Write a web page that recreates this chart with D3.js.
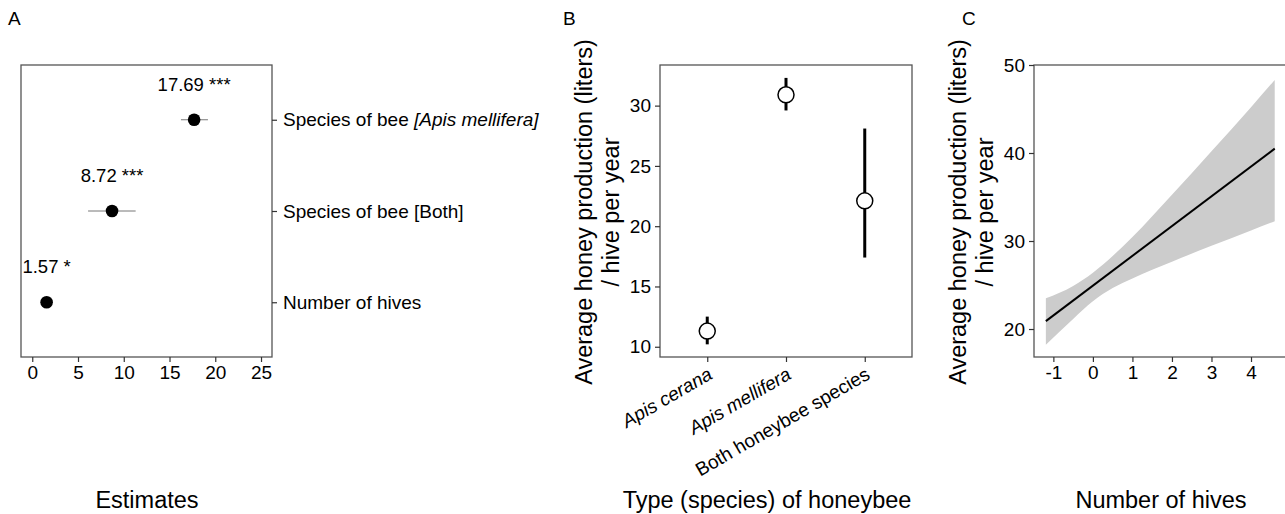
<!DOCTYPE html>
<html>
<head>
<meta charset="utf-8">
<script src="https://cdn.jsdelivr.net/npm/d3@7"></script>
<style>
  body { margin: 0; background: #fff; }
  svg { display: block; font-family: "Liberation Sans", Arial, sans-serif; }
  .tick text { fill: #000; }
</style>
</head>
<body>
<svg id="fig" width="1285" height="514"></svg>
<script>
// ── Panel A: model estimates ─────────────────────────────
const estTerms = ["Number of hives", "Species of bee [Both]", "Species of bee [Apis mellifera]"];
const estValues = [1.57, 8.72, 17.69];
const estLow = [1.1, 6.1, 16.25];
const estHigh = [2.0, 11.3, 19.2];
const estSig = ["*", "***", "***"];
const estTicks = [0, 5, 10, 15, 20, 25];

// ── Panel B: production by species ───────────────────────
const species = ["Apis cerana", "Apis mellifera", "Both honeybee species"];
const speciesMean = [11.3, 30.9, 22.1];
const speciesLow = [10.2, 29.6, 17.4];
const speciesHigh = [12.5, 32.3, 28.1];
const speciesTicks = [10, 15, 20, 25, 30];

// ── Panel C: production vs number of hives ───────────────
const hivesX = [-1.19, -0.5, 0, 0.5, 1, 2, 3, 4, 4.6];
const hivesUpper = [23.5, 24.9, 26.4, 28.3, 30.45, 35.25, 40.2, 45.2, 48.3];
const hivesLower = [18.2, 21.15, 23.15, 24.65, 25.75, 27.65, 29.45, 31.2, 32.25];
const fitX = [-1.19, 4.6];
const fitY = [20.9, 40.5];
const hivesXTicks = [-1, 0, 1, 2, 3, 4];
const hivesYTicks = [20, 30, 40, 50];

const svg = d3.select('#fig');
const TICK_FS = '19px';
const TITLE_FS = '23.5px';
const BORDER = '#555';

function styleAxis(g) {
    g.select('.domain').remove();
    g.selectAll('.tick line').attr('stroke', '#333').attr('stroke-width', 1.2);
    g.selectAll('.tick text').attr('font-size', TICK_FS).attr('font-family', null);
}

function frame(x0, y0, x1, y1) {
    svg.append('rect')
        .attr('x', x0).attr('y', y0)
        .attr('width', x1 - x0).attr('height', y1 - y0)
        .attr('fill', 'none')
        .attr('stroke', BORDER)
        .attr('stroke-width', 1.3);
}

function letter(txt, x, y) {
    svg.append('text').attr('x', x).attr('y', y)
        .attr('font-size', '19px').text(txt);
}

function xTitle(txt, x) {
    svg.append('text').attr('x', x).attr('y', 508)
        .attr('text-anchor', 'middle')
        .attr('font-size', TITLE_FS).text(txt);
}

function yTitle(cx, cy) {
    const t = svg.append('text')
        .attr('transform', `translate(${cx},${cy}) rotate(-90)`)
        .attr('text-anchor', 'middle')
        .attr('font-size', TITLE_FS);
    t.append('tspan').attr('x', 0).attr('y', 0).text('Average honey production (liters)');
    t.append('tspan').attr('x', 0).attr('y', 27).text('/ hive per year');
}

// ── A ────────────────────────────────────────────────────
{
    const left = 21, right = 272, top = 65, bottom = 357;
    const x = d3.scaleLinear().domain([-1.23, 26.2]).range([left, right]);
    const y = d3.scalePoint().domain(estTerms).range([bottom, top]).padding(0.6);

    frame(left, top, right, bottom);
    letter('A', 8, 25);

    const gx = svg.append('g').attr('transform', `translate(0,${bottom})`)
        .call(d3.axisBottom(x).tickValues(estTicks).tickSize(5).tickPadding(4));
    styleAxis(gx);

    const gy = svg.append('g').attr('transform', `translate(${right},0)`)
        .call(d3.axisRight(y).tickSize(5).tickPadding(6));
    styleAxis(gy);
    gy.selectAll('.tick text').each(function(d) {
        const t = d3.select(this);
        const m = d.match(/^(.*?)(\[Apis mellifera\])$/);
        if (m) {
            t.text(null);
            t.append('tspan').text(m[1]);
            t.append('tspan').attr('font-style', 'italic').text(m[2]);
        }
    });

    const rows = estTerms.map((term, i) => ({
        term, v: estValues[i], lo: estLow[i], hi: estHigh[i], sig: estSig[i]
    }));

    svg.append('g').selectAll('line').data(rows).join('line')
        .attr('x1', d => x(d.lo)).attr('x2', d => x(d.hi))
        .attr('y1', d => y(d.term)).attr('y2', d => y(d.term))
        .attr('stroke', '#777').attr('stroke-width', 1);

    svg.append('g').selectAll('circle').data(rows).join('circle')
        .attr('cx', d => x(d.v)).attr('cy', d => y(d.term))
        .attr('r', 6.3).attr('fill', '#000');

    svg.append('g').selectAll('text').data(rows).join('text')
        .attr('x', d => x(d.v)).attr('y', d => y(d.term) - 29)
        .attr('text-anchor', 'middle')
        .attr('font-size', '18.5px')
        .text(d => `${d.v.toFixed(2)} ${d.sig}`);

    xTitle('Estimates', 147);
}

// ── B ────────────────────────────────────────────────────
{
    const left = 660, right = 912, top = 65, bottom = 357;
    const x = d3.scalePoint().domain(species).range([left, right]).padding(0.6);
    const y = d3.scaleLinear().domain([9.15, 33.37]).range([bottom, top]);

    frame(left, top, right, bottom);
    letter('B', 563, 25);

    const gy = svg.append('g').attr('transform', `translate(${left},0)`)
        .call(d3.axisLeft(y).tickValues(speciesTicks).tickSize(5).tickPadding(4));
    styleAxis(gy);

    const gx = svg.append('g').attr('transform', `translate(0,${bottom})`)
        .call(d3.axisBottom(x).tickSize(5).tickPadding(4));
    styleAxis(gx);
    gx.selectAll('.tick text')
        .attr('text-anchor', 'end')
        .attr('font-style', (d, i) => i < 2 ? 'italic' : 'normal')
        .attr('y', 0).attr('dy', null)
        .attr('transform', 'translate(6,21) rotate(-30)');

    const rows = species.map((s, i) => ({
        s, m: speciesMean[i], lo: speciesLow[i], hi: speciesHigh[i]
    }));

    svg.append('g').selectAll('line').data(rows).join('line')
        .attr('x1', d => x(d.s)).attr('x2', d => x(d.s))
        .attr('y1', d => y(d.lo)).attr('y2', d => y(d.hi))
        .attr('stroke', '#000').attr('stroke-width', 3);

    svg.append('g').selectAll('circle').data(rows).join('circle')
        .attr('cx', d => x(d.s)).attr('cy', d => y(d.m))
        .attr('r', 8).attr('fill', '#fff')
        .attr('stroke', '#000').attr('stroke-width', 1.5);

    yTitle(592, 212);
    xTitle('Type (species) of honeybee', 767);
}

// ── C ────────────────────────────────────────────────────
{
    const left = 1034, right = 1286, top = 65, bottom = 357;
    const x = d3.scaleLinear().domain([-1.49, 4.87]).range([left, 1285.4]);
    const y = d3.scaleLinear().domain([16.82, 50]).range([bottom, top]);

    const band = hivesX.map((v, i) => ({ x: v, lo: hivesLower[i], hi: hivesUpper[i] }));
    svg.append('path').datum(band)
        .attr('fill', '#cccccc')
        .attr('d', d3.area().curve(d3.curveMonotoneX)
            .x(d => x(d.x)).y0(d => y(d.lo)).y1(d => y(d.hi)));

    const fit = fitX.map((v, i) => ({ x: v, y: fitY[i] }));
    svg.append('path').datum(fit)
        .attr('fill', 'none').attr('stroke', '#000').attr('stroke-width', 2)
        .attr('d', d3.line().x(d => x(d.x)).y(d => y(d.y)));

    frame(left, top, right, bottom);
    letter('C', 962, 25);

    const gy = svg.append('g').attr('transform', `translate(${left},0)`)
        .call(d3.axisLeft(y).tickValues(hivesYTicks).tickSize(5).tickPadding(4));
    styleAxis(gy);

    const gx = svg.append('g').attr('transform', `translate(0,${bottom})`)
        .call(d3.axisBottom(x).tickValues(hivesXTicks).tickSize(5).tickPadding(4)
            .tickFormat(d => String(d)));
    styleAxis(gx);

    yTitle(966, 212);
    xTitle('Number of hives', 1161);
}
</script>
</body>
</html>
